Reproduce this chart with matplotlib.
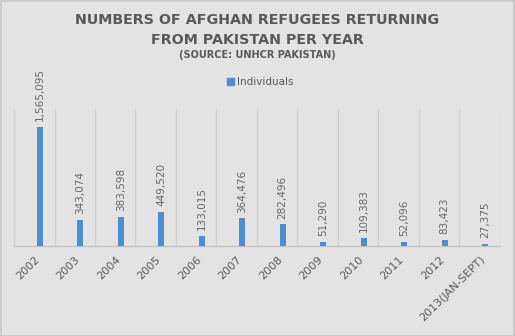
import numpy as np
import matplotlib
matplotlib.use("Agg")
import matplotlib.pyplot as plt
from matplotlib.patches import Patch

# ---- data ----
years = ['2002', '2003', '2004', '2005', '2006', '2007', '2008',
         '2009', '2010', '2011', '2012', '2013(JAN-SEPT)']
individuals = [1565095, 343074, 383598, 449520, 133015, 364476, 282496,
               51290, 109383, 52096, 83423, 27375]

# ---- style ----
bg = '#e3e3e3'
bar_col = '#4e8dcf'
txt_col = '#595959'
grid_col = '#cfcfcf'

fig = plt.figure(figsize=(5.15, 3.36), dpi=100, facecolor=bg)
fig.patches.append(plt.Rectangle((0.001, 0.001), 0.997, 0.996, transform=fig.transFigure,
                                 fill=False, edgecolor='#c8c8c8', linewidth=1.2))
ax = fig.add_axes([0.0272, 0.268, 0.9436, 0.4076])
ax.set_facecolor(bg)

x = np.arange(len(years))
ax.bar(x + 0.135, individuals, width=0.15, color=bar_col, zorder=3)

# data labels, rotated
for xi, v in zip(x, individuals):
    ax.annotate(f'{v:,}', (xi + 0.135, v), xytext=(0, 4), textcoords='offset points',
                rotation=90, ha='center', va='bottom', fontsize=7.5, color='#666666')

ax.set_xlim(-0.5, len(years) - 0.5)
ax.set_ylim(0, 1800000)
ax.set_yticks([])
ax.set_xticks(x)
ax.set_xticklabels(years, rotation=45, ha='right', rotation_mode='anchor',
                   fontsize=8, color=txt_col)
ax.tick_params(axis='x', length=0, pad=6)

# vertical gridlines on the category boundaries
for b in np.arange(-0.5, len(years), 1.0):
    ax.axvline(b, color=grid_col, linewidth=0.9, zorder=1)

for s in ['top', 'left', 'right']:
    ax.spines[s].set_visible(False)
ax.spines['bottom'].set_color('#c4c4c4')
ax.spines['bottom'].set_linewidth(1.0)

# titles
fig.text(0.5, 0.94, 'NUMBERS OF AFGHAN REFUGEES RETURNING', ha='center', va='center',
         fontsize=10.3, fontweight='bold', color=txt_col)
fig.text(0.5, 0.882, 'FROM PAKISTAN PER YEAR', ha='center', va='center',
         fontsize=10.3, fontweight='bold', color=txt_col)
fig.text(0.5, 0.836, '(SOURCE: UNHCR PAKISTAN)', ha='center', va='center',
         fontsize=7, fontweight='bold', color=txt_col)

fig.legend(handles=[Patch(color=bar_col, label='Individuals')], loc='center',
           bbox_to_anchor=(0.505, 0.756), frameon=False, fontsize=7.5,
           handlelength=0.7, handleheight=0.7, handletextpad=0.3, labelcolor=txt_col)

fig.savefig('out.png', dpi=100, facecolor=bg)
